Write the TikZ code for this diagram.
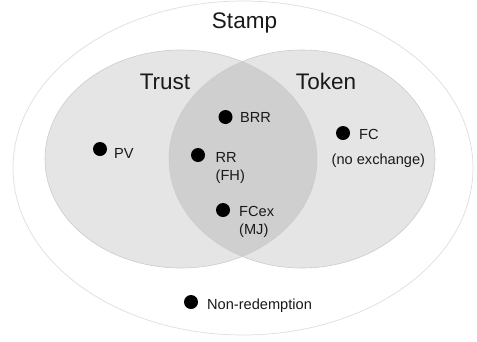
\documentclass[tikz,border=0pt]{standalone}
\usepackage{fontspec}
\setmainfont{Liberation Sans}
\begin{document}
\begin{tikzpicture}[x=1bp,y=-1bp,
  setfill/.style={fill=black!10},
  lensfill/.style={fill=black!19},
  setline/.style={draw=black!20,line width=0.6bp},
  dot/.style={circle,fill=black,inner sep=0pt,minimum size=14bp},
  lbl/.style={anchor=base west,inner sep=0pt,font=\fontsize{14.6bp}{18bp}\selectfont,text=black!90},
  head/.style={anchor=base,inner sep=0pt,font=\fontsize{22.5bp}{26bp}\selectfont,text=black!90}]
\useasboundingbox (0,0) rectangle (477,341);
% outer set
\draw[draw=black!13,line width=0.7bp,fill=white] (243,168) ellipse [x radius=230, y radius=167];
% the two inner sets
\fill[setfill] (181,159) ellipse [x radius=136, y radius=109];
\fill[setfill] (302,159) ellipse [x radius=133, y radius=109];
% their overlap
\begin{scope}
  \clip (181,159) ellipse [x radius=136, y radius=109];
  \fill[lensfill] (302,159) ellipse [x radius=133, y radius=109];
\end{scope}
\draw[setline] (181,159) ellipse [x radius=136, y radius=109];
\draw[setline] (302,159) ellipse [x radius=133, y radius=109];
% headings
\node[head] (stamp) at (244.5,28) {Stamp};
\node[head] (trust) at (165,89) {Trust};
\node[head] (token) at (326,89) {Token};
% points and their labels
\node[dot] (pvdot) at (100,149) {};
\node[lbl] (pv) at (114,158) {PV};
\node[dot] (brrdot) at (225.5,117) {};
\node[lbl] (brr) at (240,122) {BRR};
\node[dot] (rrdot) at (198,155) {};
\node[lbl] (rr) at (215.5,162) {RR};
\node[lbl] (fh) at (215.5,180) {(FH)};
\node[dot] (fcexdot) at (223,210) {};
\node[lbl] (fcex) at (239,216) {FCex};
\node[lbl] (mj) at (239,234) {(MJ)};
\node[dot] (fcdot) at (343,133) {};
\node[lbl] (fc) at (359,139) {FC};
\node[lbl] (noex) at (331.5,164) {(no exchange)};
\node[dot] (nrdot) at (191,302) {};
\node[lbl] (nr) at (207,309) {Non-redemption};
\end{tikzpicture}
\end{document}
